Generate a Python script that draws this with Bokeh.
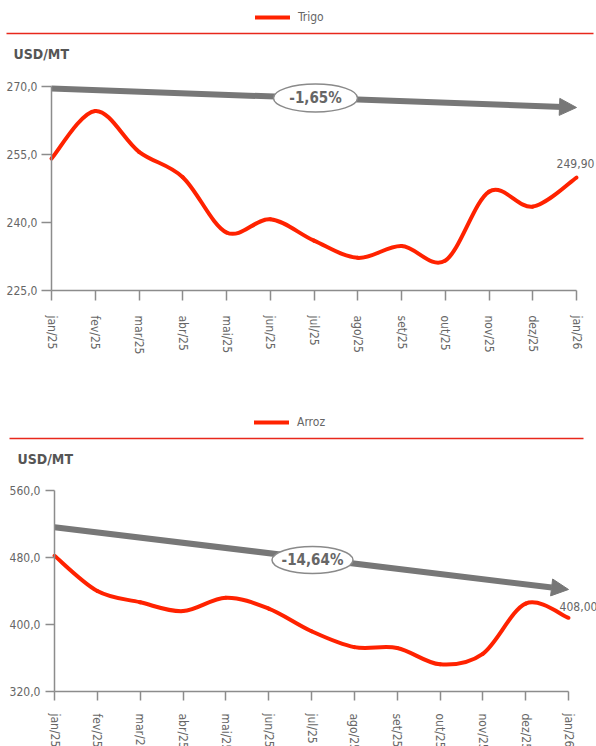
from bokeh.plotting import figure
from bokeh.models import (Range1d, FixedTicker, CustomJSTickFormatter, Label, Arrow,
                          NormalHead, Legend, LegendItem, ColumnDataSource)
from bokeh.layouts import column
from bokeh.embed import file_html
from bokeh.resources import INLINE

# ---------------- data ----------------
months = ["jan/25", "fev/25", "mar/25", "abr/25", "mai/25", "jun/25", "jul/25",
          "ago/25", "set/25", "out/25", "nov/25", "dez/25", "jan/26"]
trigo = [254.1, 264.6, 255.6, 250.0, 237.8, 240.7, 236.0, 232.2, 234.8, 231.6, 246.8, 243.5, 249.9]
arroz = [482.0, 440.0, 426.5, 416.0, 432.0, 419.0, 392.0, 373.0, 372.0, 352.5, 365.0, 425.0, 408.0]
trigo_yticks = [225, 240, 255, 270]
arroz_yticks = [320, 400, 480, 560]
trigo_trend = [269.56, 265.37]
arroz_trend = [516.2, 441.8]
trigo_pct = "-1,65%"
arroz_pct = "-14,64%"
unit = "USD/MT"

FONT = "'DejaVu Sans Condensed', 'Liberation Sans Narrow', sans-serif"
RED = "#FF2200"
GRAY_TXT = "#666666"
AXIS = "#8c8c8c"
ARROW = "#777777"
W = 596


def bezier_source(ys):
    xs = list(range(len(ys)))
    n = len(ys)
    d = dict(x0=[], y0=[], x1=[], y1=[], cx0=[], cy0=[], cx1=[], cy1=[])
    for i in range(n - 1):
        a = i - 1 if i > 0 else i
        b = i + 2 if i + 2 < n else i + 1
        d["x0"].append(xs[i]); d["y0"].append(ys[i])
        d["x1"].append(xs[i + 1]); d["y1"].append(ys[i + 1])
        d["cx0"].append(xs[i] + (xs[i + 1] - xs[a]) / 6)
        d["cy0"].append(ys[i] + (ys[i + 1] - ys[a]) / 6)
        d["cx1"].append(xs[i + 1] - (xs[b] - xs[i]) / 6)
        d["cy1"].append(ys[i + 1] - (ys[b] - ys[i]) / 6)
    return ColumnDataSource(d)


def make_chart(h, L, R, T, B, ymin, ymax, yticks, ys, trend, pct, name,
               tick_out, y_standoff, x_standoff, legend_x, legend_cy, rule, unit_xy,
               ell, val_off, ell_size, pct_size):
    n = len(months) - 1
    kx = n / (R - L)
    ky = (ymax - ymin) / (B - T)

    def px_x(px):
        return (px - L) * kx

    def px_y(py):
        return ymax - (py - T) * ky

    p = figure(width=W, height=h,
               x_range=Range1d(px_x(0), px_x(W)), y_range=Range1d(px_y(h), px_y(0)),
               output_backend="svg", toolbar_location=None,
               min_border_left=0, min_border_right=0, min_border_top=0, min_border_bottom=0)
    p.outline_line_color = None
    p.grid.visible = False
    p.background_fill_color = "white"
    p.border_fill_color = "white"

    # axes
    ya = p.yaxis[0]
    ya.ticker = FixedTicker(ticks=yticks)
    ya.formatter = CustomJSTickFormatter(code="return tick.toFixed(1).replace('.', ',');")
    ya.fixed_location = 0
    ya.bounds = (ymin, ymax)
    xa = p.xaxis[0]
    xa.ticker = FixedTicker(ticks=list(range(len(months))))
    xa.major_label_overrides = {i: m for i, m in enumerate(months)}
    xa.major_label_orientation = "vertical"
    xa.fixed_location = ymin
    xa.bounds = (0, n)
    for ax, so in ((ya, y_standoff), (xa, x_standoff)):
        ax.axis_line_color = AXIS
        ax.axis_line_width = 1.5
        ax.major_tick_line_color = AXIS
        ax.major_tick_line_width = 1.5
        ax.major_tick_out = tick_out
        ax.major_tick_in = 0
        ax.minor_tick_line_color = None
        ax.major_label_text_font = FONT
        ax.major_label_text_font_size = "12px"
        ax.major_label_text_color = GRAY_TXT
        ax.major_label_standoff = so

    # trend arrow
    arr = Arrow(x_start=0, y_start=trend[0], x_end=n, y_end=trend[1],
                line_color=ARROW, line_width=6,
                end=NormalHead(size=17, fill_color=ARROW, line_color=ARROW, line_width=1),
                level="underlay")
    p.add_layout(arr)

    # series
    src = bezier_source(ys)
    r = p.bezier(x0="x0", y0="y0", x1="x1", y1="y1", cx0="cx0", cy0="cy0",
                 cx1="cx1", cy1="cy1", source=src, line_color=RED, line_width=4,
                 line_cap="round")

    # percentage bubble
    ex, ey = px_x(ell[0]), px_y(ell[1])
    p.ellipse(x=[ex], y=[ey], width=ell_size[0], height=ell_size[1],
              width_units="screen", height_units="screen",
              fill_color="white", line_color="#8a8a8a", line_width=1.5)
    p.add_layout(Label(x=ex, y=ey, text=pct, text_align="center", text_baseline="middle",
                       text_font=FONT, text_font_style="bold", text_font_size=pct_size,
                       text_color=GRAY_TXT))

    # last value label
    last = f"{ys[-1]:.2f}".replace(".", ",")
    p.add_layout(Label(x=n, y=ys[-1], text=last, x_offset=val_off[0], y_offset=val_off[1],
                       text_align="center", text_baseline="middle", text_font=FONT,
                       text_font_size="12px", text_color=GRAY_TXT))

    # unit label
    p.add_layout(Label(x=px_x(unit_xy[0]), y=px_y(unit_xy[1]), text=unit,
                       text_align="left", text_baseline="middle", text_font=FONT,
                       text_font_style="bold", text_font_size="14px", text_color="#555555"))

    # red rule
    p.add_layout(Arrow(x_start=px_x(rule[0]), y_start=px_y(rule[2]),
                       x_end=px_x(rule[1]), y_end=px_y(rule[2]),
                       start=None, end=None, line_color="#E8281C", line_width=1.5))

    # legend (location measured from bottom-left of the frame)
    lh = 14
    leg = Legend(items=[LegendItem(label=name, renderers=[r])],
                 location=(legend_x, h - legend_cy - lh / 2),
                 orientation="horizontal", glyph_width=35, glyph_height=lh,
                 label_height=lh, label_standoff=8, padding=0, margin=0, spacing=0,
                 border_line_color=None, background_fill_alpha=0,
                 label_text_font=FONT, label_text_font_size="12px",
                 label_text_color=GRAY_TXT)
    p.add_layout(leg)
    return p


p1 = make_chart(h=370, L=51, R=576, T=86, B=290, ymin=225, ymax=270,
                yticks=trigo_yticks, ys=trigo, trend=trigo_trend, pct=trigo_pct,
                name="Trigo", tick_out=10, y_standoff=4, x_standoff=15,
                legend_x=255, legend_cy=17, rule=(6, 593, 33), unit_xy=(13, 53),
                ell=(315, 97.5), val_off=(-1, 14), ell_size=(84, 28), pct_size="15px")

p2 = make_chart(h=376, L=54, R=568, T=120, B=321, ymin=320, ymax=560,
                yticks=arroz_yticks, ys=arroz, trend=arroz_trend, pct=arroz_pct,
                name="Arroz", tick_out=9, y_standoff=5, x_standoff=13,
                legend_x=254, legend_cy=52, rule=(9, 583, 68), unit_xy=(17, 88),
                ell=(312, 189.5), val_off=(10, 11), ell_size=(81, 27), pct_size="15px")

layout = column(p1, p2, spacing=0)
open("out.html", "w").write(file_html(layout, INLINE))
